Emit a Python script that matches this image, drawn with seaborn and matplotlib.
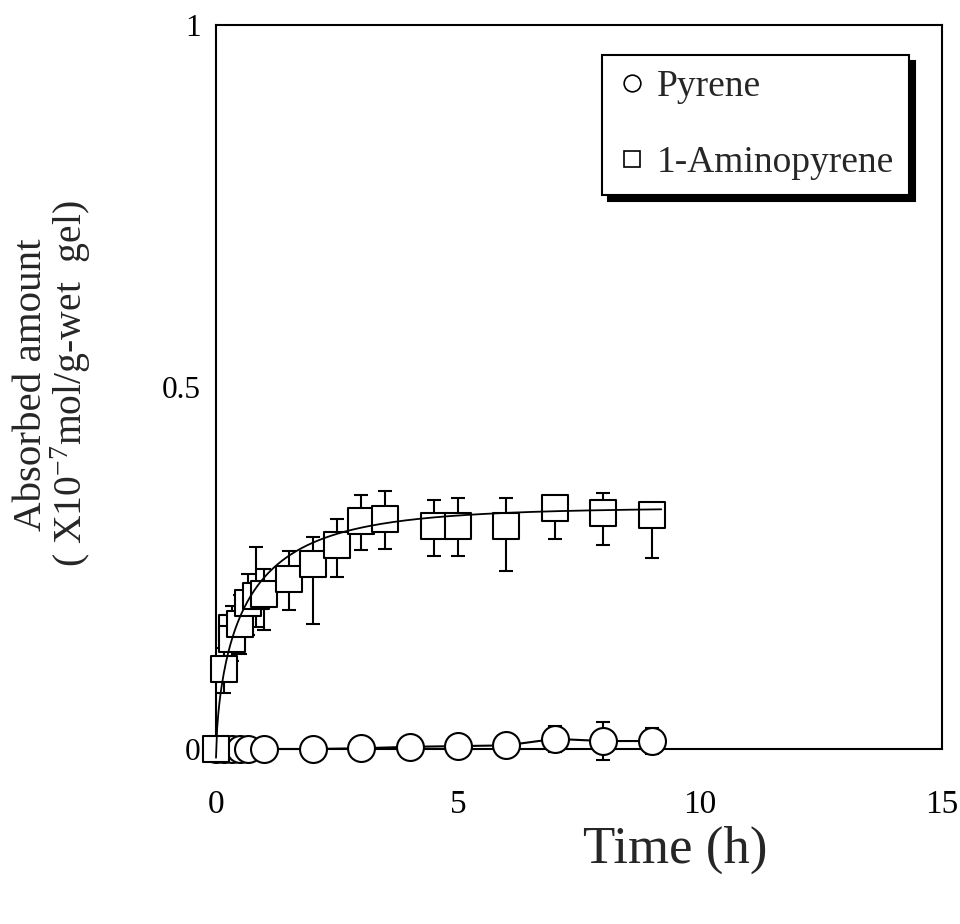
import numpy as np
import pandas as pd
import matplotlib
matplotlib.use("Agg")
import matplotlib.pyplot as plt
from matplotlib.lines import Line2D
import seaborn as sns

# Pyrene uptake (mean and error)
pyr_time = [0, 0.17, 0.33, 0.5, 0.67, 1, 2, 3, 4, 5, 6, 7, 8, 9]
pyr_amount = [0, 0, 0, 0, 0, 0, 0, 0.001, 0.003, 0.004, 0.005, 0.014, 0.011, 0.011]
pyr_err = [0, 0, 0, 0, 0, 0, 0.002, 0.002, 0.003, 0.003, 0.005, 0.018, 0.026, 0.018]

# 1-Aminopyrene uptake (mean, lower and upper error)
amp_time = [0, 0.17, 0.33, 0.33, 0.5, 0.67, 0.83, 1.0, 1.5, 2.0, 2.5, 3.0, 3.5,
            4.5, 5.0, 6.0, 7.0, 8.0, 9.0]
amp_amount = [0, 0.110, 0.167, 0.152, 0.172, 0.202, 0.211, 0.214, 0.235, 0.255,
              0.282, 0.315, 0.318, 0.308, 0.308, 0.308, 0.332, 0.326, 0.323]
amp_err_lo = [0, 0.033, 0.030, 0.030, 0.041, 0.045, 0.042, 0.050, 0.043, 0.083,
              0.044, 0.041, 0.042, 0.042, 0.042, 0.062, 0.042, 0.045, 0.059]
amp_err_hi = [0, 0.030, 0.030, 0.030, 0.040, 0.040, 0.068, 0.035, 0.038, 0.038,
              0.036, 0.036, 0.038, 0.036, 0.039, 0.038, 0.015, 0.027, 0.010]

# Fitted uptake curve parameters: y = A * (1 - exp(-k * t**p)) + c
fit_A, fit_k, fit_p, fit_c = 0.345, 1.28, 0.62, -0.012
fit_tmax = 9.2

x_ticks = [0, 5, 10, 15]
y_ticks = [0, 0.5, 1]
y_ticklabels = ["0", "0.5", "1"]

sns.set_style("white")
plt.rcParams["font.family"] = ["Liberation Serif", "DejaVu Serif"]
plt.rcParams["mathtext.fontset"] = "custom"
plt.rcParams["mathtext.rm"] = "Liberation Serif"
plt.rcParams["mathtext.it"] = "Liberation Serif:italic"

fig = plt.figure(figsize=(9.6, 9.24), dpi=100)
ax = fig.add_axes([0.225, 0.18939, 0.75625, 0.78409])

pyr_df = pd.DataFrame({"t": pyr_time, "y": pyr_amount})
amp_df = pd.DataFrame({"t": amp_time, "y": amp_amount})

ms = 19.4
lw = 1.5

# Pyrene: error bars, then line with open circles
ax.errorbar(pyr_time, pyr_amount, yerr=pyr_err, fmt="none", ecolor="black",
            elinewidth=lw, capsize=4.8, capthick=lw, zorder=2, clip_on=False)
sns.lineplot(data=pyr_df, x="t", y="y", ax=ax, estimator=None, sort=False,
             color="black", linewidth=lw, marker="o", markersize=ms,
             markerfacecolor="white", markeredgecolor="black",
             markeredgewidth=lw, zorder=3, clip_on=False, legend=False)

# 1-Aminopyrene: error bars, then open squares
ax.errorbar(amp_time, amp_amount, yerr=[amp_err_lo, amp_err_hi], fmt="none",
            ecolor="black", elinewidth=lw, capsize=4.8, capthick=lw,
            zorder=4, clip_on=False)
sns.scatterplot(data=amp_df, x="t", y="y", ax=ax, marker="s", s=ms ** 2,
                color="white", edgecolor="black", linewidth=lw, zorder=5,
                clip_on=False, legend=False)

# Fitted curve
t_fit = np.linspace(0, fit_tmax, 400)
y_fit = fit_A * (1 - np.exp(-fit_k * t_fit ** fit_p)) + fit_c
ax.plot(t_fit, y_fit, color="black", linewidth=1.3, zorder=6, clip_on=False)

ax.set_xlim(0, 15)
ax.set_ylim(0, 1)
ax.set_xticks(x_ticks)
ax.set_yticks(y_ticks)
ax.set_yticklabels(y_ticklabels)
ax.tick_params(axis="both", direction="in", length=7.2, width=lw,
               colors="black")
ax.tick_params(axis="x", pad=29, labelsize=24)
ax.tick_params(axis="y", pad=11, labelsize=22.5)
for sp in ax.spines.values():
    sp.set_visible(True)
    sp.set_linewidth(lw)
    sp.set_color("black")

ax.set_xlabel("")
ax.set_ylabel("")
fig.text(675 / 960, 1 - 850 / 924, "Time (h)", fontsize=38, ha="center",
         va="center")
fig.text(32 / 960, 1 - 385 / 924, "Absorbed amount", fontsize=29.5,
         rotation=90, ha="center", va="center")
fig.text(71 / 960, 1 - 384 / 924,
         r"( X10$\mathregular{^{-7}}$mol/g-wet  gel)", fontsize=28.5,
         rotation=90, ha="center", va="center")

handles = [
    Line2D([], [], marker="o", linestyle="none", markersize=12,
           markerfacecolor="white", markeredgecolor="black",
           markeredgewidth=1.2),
    Line2D([], [], marker="s", linestyle="none", markersize=12,
           markerfacecolor="white", markeredgecolor="black",
           markeredgewidth=1.2),
]
leg = ax.legend(handles, ["Pyrene", "1-Aminopyrene"], loc="upper right",
                bbox_to_anchor=(0.9545, 0.9585), borderaxespad=0,
                fontsize=27, frameon=True, fancybox=False,
                shadow={"ox": 4.3, "oy": -4.3, "facecolor": "black",
                        "edgecolor": "black", "alpha": 1},
                handlelength=0.8, handletextpad=0.26, borderpad=0.4,
                labelspacing=1.1)
leg.get_frame().set_edgecolor("black")
leg.get_frame().set_linewidth(lw)
leg.get_frame().set_alpha(1)

fig.savefig("out.png", dpi=100, facecolor="white")
